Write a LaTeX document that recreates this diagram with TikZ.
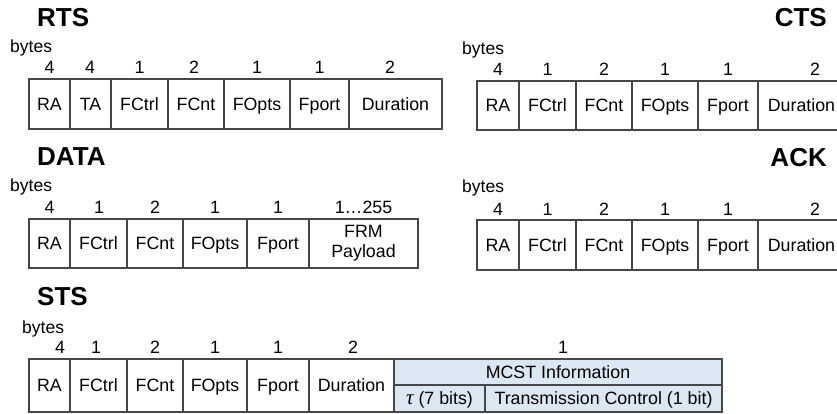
\documentclass[tikz,border=0pt]{standalone}
\usepackage{fontspec}
\setmainfont{Liberation Sans}
\newfontfamily\taufont{Liberation Serif}
\definecolor{lineC}{HTML}{474747}
\definecolor{mcstC}{HTML}{DCE7F4}
\tikzset{
  field/.style={draw=lineC, line width=1.2pt, inner sep=0pt, font=\fontsize{17.8}{21}\selectfont, align=center, text height=16.6pt, text depth=4pt},
  multi/.style={text height=, text depth=},
  num/.style={anchor=base, inner sep=0pt, font=\fontsize{17.8}{21}\selectfont},
  bytesl/.style={anchor=base west, inner sep=0pt, font=\fontsize{17.5}{21}\selectfont},
  ttl/.style={inner sep=0pt, font=\fontsize{26}{28}\selectfont\bfseries},
}
% [extra], name, x1, x2, y1, y2, text
\newcommand\fld[7][]{%
  \node[field, #1, minimum width={(#4-#3)*1pt}, minimum height={(#6-#5)*1pt}]
    (#2) at ({(#3+#4)/2},{(#5+#6)/2}) {#7};}
\begin{document}
\begin{tikzpicture}[x=1pt,y=-1pt]
\useasboundingbox (0,0) rectangle (837,414);
\begin{scope}
\clip (0,0) rectangle (837,414);
% ---------------- RTS
\node[ttl, anchor=base west] (rtsT) at (37,27) {RTS};
\node[bytesl] (rtsB) at (10,53) {bytes};
\foreach \n/\x/\t in {1/49.5/4,2/90/4,3/139.5/1,4/194/2,5/257/1,6/319.5/1,7/390/2}
  \node[num] (rtsN\n) at (\x,74) {\t};
\fld{rtsRA}{29}{70}{79}{129}{RA}
\fld{rtsTA}{70}{111}{79}{129}{TA}
\fld{rtsFC}{111}{168}{79}{129}{FCtrl}
\fld{rtsCN}{168}{224}{79}{129}{FCnt}
\fld{rtsFO}{224}{290}{79}{129}{FOpts}
\fld{rtsFP}{290}{349}{79}{129}{Fport}
\fld{rtsDU}{349}{442}{79}{129}{Duration}
% ---------------- CTS
\node[ttl, anchor=base east] (ctsT) at (827,27) {CTS};
\node[bytesl] (ctsB) at (462,55) {bytes};
\foreach \n/\x/\t in {1/498/4,2/547.5/1,3/604/2,4/665/1,5/728/1,6/815/2}
  \node[num] (ctsN\n) at (\x,76) {\t};
\fld{ctsRA}{477}{519}{81}{130}{RA}
\fld{ctsFC}{519}{576}{81}{130}{FCtrl}
\fld{ctsCN}{576}{632}{81}{130}{FCnt}
\fld{ctsFO}{632}{698}{81}{130}{FOpts}
\fld{ctsFP}{698}{758}{81}{130}{Fport}
\fld{ctsDU}{758}{845}{81}{130}{Duration}
% ---------------- DATA
\node[ttl, anchor=base west] (dataT) at (37,165) {DATA};
\node[bytesl] (dataB) at (10,191) {bytes};
\foreach \n/\x/\t in {1/49.5/4,2/99/1,3/155/2,4/215/1,5/278/1,6/363.5/1\dots 255}
  \node[num] (dataN\n) at (\x,213) {\t};
\fld{dataRA}{29}{70}{219}{268}{RA}
\fld{dataFC}{70}{127}{219}{268}{FCtrl}
\fld{dataCN}{127}{183}{219}{268}{FCnt}
\fld{dataFO}{183}{247}{219}{268}{FOpts}
\fld{dataFP}{247}{309}{219}{268}{Fport}
\fld[multi]{dataPL}{309}{418}{219}{268}{FRM\\[-1pt]Payload}
% ---------------- ACK
\node[ttl, anchor=base east] (ackT) at (827,167) {ACK};
\node[bytesl] (ackB) at (462,193) {bytes};
\foreach \n/\x/\t in {1/498/4,2/547.5/1,3/604/2,4/665/1,5/728/1,6/815/2}
  \node[num] (ackN\n) at (\x,215) {\t};
\fld{ackRA}{477}{519}{220}{270}{RA}
\fld{ackFC}{519}{576}{220}{270}{FCtrl}
\fld{ackCN}{576}{632}{220}{270}{FCnt}
\fld{ackFO}{632}{698}{220}{270}{FOpts}
\fld{ackFP}{698}{758}{220}{270}{Fport}
\fld{ackDU}{758}{845}{220}{270}{Duration}
% ---------------- STS
\node[ttl, anchor=base west] (stsT) at (37,305) {STS};
\node[bytesl] (stsB) at (22,333) {bytes};
\foreach \n/\x/\t in {1/60/4,2/96/1,3/155/2,4/215/1,5/278/1,6/353/2,7/563/1}
  \node[num] (stsN\n) at (\x,353) {\t};
\fld{stsRA}{29}{70}{359}{412}{RA}
\fld{stsFC}{70}{127}{359}{412}{FCtrl}
\fld{stsCN}{127}{183}{359}{412}{FCnt}
\fld{stsFO}{183}{247}{359}{412}{FOpts}
\fld{stsFP}{247}{309}{359}{412}{Fport}
\fld{stsDU}{309}{394}{359}{412}{Duration}
\fld[fill=mcstC]{stsMC}{394}{722}{359}{385}{MCST Information}
\fld[fill=mcstC]{stsTau}{394}{485}{385}{412}{{\taufont\itshape\fontsize{21}{21}\selectfont τ} (7 bits)}
\fld[fill=mcstC]{stsTC}{485}{722}{385}{412}{Transmission Control (1 bit)}
\end{scope}
\end{tikzpicture}
\end{document}
